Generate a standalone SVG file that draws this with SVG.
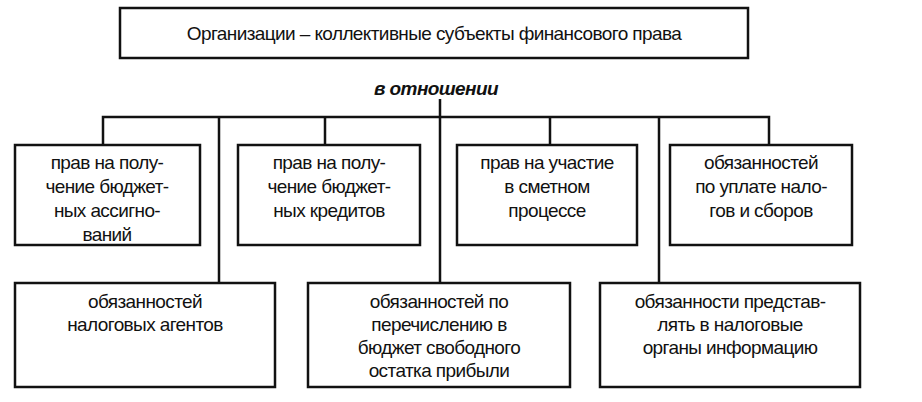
<svg xmlns="http://www.w3.org/2000/svg" width="922" height="402" viewBox="0 0 922 402">
<style>
.b{fill:#fff;stroke:#111;stroke-width:2.5}
.l{stroke:#111;stroke-width:2.5;fill:none}
text{font-family:"Liberation Sans",Arial,sans-serif;font-size:19px;fill:#111;text-anchor:middle;letter-spacing:-0.6px}
</style>
<rect width="922" height="402" fill="#fff"/>
<g id="title"><rect class="b" x="120" y="8" width="628" height="50"/><text x="434" y="40">Организации – коллективные субъекты финансового права</text></g>
<g id="label"><text x="436" y="95" font-style="italic" font-weight="bold" font-size="17">в отношении</text></g>
<g id="connectors">
<path class="l" d="M440 99V283M103 145V117H769V145M325 117V145M550 117V145M219 117V283M659 117V283"/>
</g>
<g id="n1"><rect class="b" x="15" y="145" width="185" height="100"/><text x="107" y="169">прав на полу-</text><text x="107" y="193">чение бюджет-</text><text x="107" y="217">ных ассигно-</text><text x="107" y="241">ваний</text></g>
<g id="n2"><rect class="b" x="238" y="145" width="182" height="100"/><text x="329" y="169">прав на полу-</text><text x="329" y="193">чение бюджет-</text><text x="329" y="217">ных кредитов</text></g>
<g id="n3"><rect class="b" x="457" y="145" width="180" height="100"/><text x="547" y="169">прав на участие</text><text x="547" y="193">в сметном</text><text x="547" y="217">процессе</text></g>
<g id="n4"><rect class="b" x="670" y="145" width="182" height="100"/><text x="761" y="169">обязанностей</text><text x="761" y="193">по уплате нало-</text><text x="761" y="217">гов и сборов</text></g>
<g id="n5"><rect class="b" x="15" y="283" width="260" height="104"/><text x="145" y="308">обязанностей</text><text x="145" y="331">налоговых агентов</text></g>
<g id="n6"><rect class="b" x="308" y="283" width="262" height="104"/><text x="439" y="308">обязанностей по</text><text x="439" y="331">перечислению в</text><text x="439" y="354">бюджет свободного</text><text x="439" y="377">остатка прибыли</text></g>
<g id="n7"><rect class="b" x="600" y="283" width="260" height="104"/><text x="730" y="308">обязанности представ-</text><text x="730" y="331">лять в налоговые</text><text x="730" y="354">органы информацию</text></g>
</svg>
